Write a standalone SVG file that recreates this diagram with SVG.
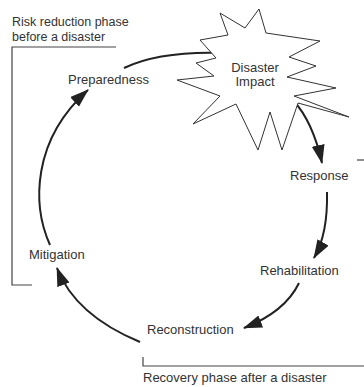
<svg xmlns="http://www.w3.org/2000/svg" width="364" height="387" viewBox="0 0 364 387">
<style>
text{font-family:"Liberation Sans",Arial,sans-serif;font-size:13px;fill:#333}
.s{font-size:12.5px}
.c{fill:none;stroke:#222;stroke-width:2}
.b{fill:none;stroke:#444;stroke-width:1.2}
</style>
<defs>
<marker id="ah" markerUnits="userSpaceOnUse" markerWidth="20" markerHeight="14" refX="18" refY="6.5" orient="auto">
<path d="M0,0 L19,6.5 L0,13 z" fill="#222"/>
</marker>
</defs>
<rect width="364" height="387" fill="#fff"/>
<g id="brackets">
<path class="b" d="M116 47 H12 V285 H32"/>
<path class="b" d="M143 357 V366 H364"/>
<path class="b" d="M357 160 H364"/>
</g>
<g id="labels">
<text class="s" x="12" y="26">Risk reduction phase</text>
<text class="s" x="12" y="40.5">before a disaster</text>
<text x="143" y="382">Recovery phase after a disaster</text>
</g>
<g id="connectors">
<path class="c" d="M124 68 Q160 51 222 53"/>
<path class="c" d="M293 100 Q313 122 322 163" marker-end="url(#ah)"/>
<path class="c" d="M327 192 Q328 234 314 258" marker-end="url(#ah)"/>
<path class="c" d="M299 283 Q285 312 244 328" marker-end="url(#ah)"/>
<path class="c" d="M140 342 Q75 315 57 268" marker-end="url(#ah)"/>
<path class="c" d="M50 245 C32 205 32 140 88 90" marker-end="url(#ah)"/>
</g>
<g id="disaster-impact">
<path d="M220 13 L245 28 L259 9 L266 33 L320 41 L289 57 L316 66 L287 77 L336 88 L294 96 L349 117 L298 103 L282 150 L270 112 L258 150 L236 104 L193 124 L220 96 L177 80 L214 76 L196 63 L216 58 L200 40 L228 35 Z" fill="#fff" stroke="#333" stroke-width="1" stroke-linejoin="miter"/>
<text x="255" y="72" text-anchor="middle">Disaster</text>
<text x="255" y="86" text-anchor="middle">Impact</text>
</g>
<g id="preparedness"><text x="68" y="84">Preparedness</text></g>
<g id="response"><text x="290" y="180">Response</text></g>
<g id="rehabilitation"><text x="260" y="275">Rehabilitation</text></g>
<g id="reconstruction"><text x="147" y="334">Reconstruction</text></g>
<g id="mitigation"><text x="29" y="259">Mitigation</text></g>
</svg>
